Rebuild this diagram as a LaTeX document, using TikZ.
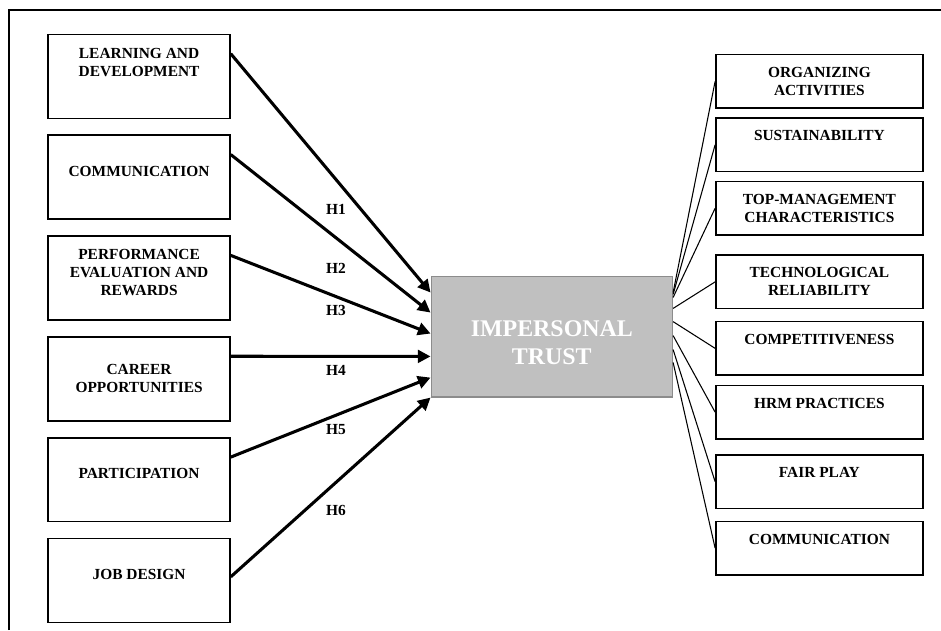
\documentclass[tikz,border=0pt]{standalone}
\usepackage{fontspec}
\setmainfont{Liberation Serif}
\usepackage{xcolor}
\usepackage{tikz}
\usetikzlibrary{positioning, arrows.meta}
\definecolor{trustfill}{HTML}{C0C0C0}
\definecolor{trustedge}{HTML}{8C8C8C}

\begin{document}
\begin{tikzpicture}[
  node distance = 0.41cm and 0.6cm,
  factor/.style = {draw, line width=1.1pt, align=center, font=\fontsize{11.6pt}{13.5pt}\selectfont\bfseries, minimum width=4.81cm, minimum height=2.22cm, inner sep=1pt},
  dimension/.style = {factor, minimum width=5.48cm, minimum height=1.42cm},
  trust/.style = {draw=trustedge, line width=0.8pt, fill=trustfill, text=white, align=center, font=\fontsize{18pt}{21pt}\selectfont\bfseries, minimum width=6.39cm, minimum height=3.2cm},
  hyp/.style = {font=\fontsize{11.6pt}{13.5pt}\selectfont\bfseries, inner sep=1pt},
  effect/.style = {-{Triangle[length=9.5pt, width=9.5pt]}, line width=2.3pt},
  link/.style = {line width=0.8pt},
]
\useasboundingbox (0,0) rectangle (24.897,16.669);
\draw[line width=0.8pt] (0.238,0) |- (24.897,16.404);
% left column
\node[factor] (a) at (3.68,14.65) {LEARNING AND\\DEVELOPMENT\\[7.5pt]\mbox{}};
\node[factor, below=of a] (b) {COMMUNICATION\\[-4.5pt]\mbox{}};
\node[factor, below=of b] (c) {PERFORMANCE\\EVALUATION AND\\REWARDS\\[-4.5pt]\mbox{}};
\node[factor, below=of c] (d) {CAREER\\OPPORTUNITIES};
\node[factor, below=of d] (e) {PARTICIPATION\\[-4.5pt]\mbox{}};
\node[factor, below=of e] (f) {JOB DESIGN\\[-4.5pt]\mbox{}};
% centre
\node[trust] (t) at (14.6,7.765) {\mbox{}\\IMPERSONAL\\TRUST};
% right column
\node[dimension] (g) at (21.68,14.517) {ORGANIZING\\ACTIVITIES};
\node[dimension, below=0.22cm of g] (h) {SUSTAINABILITY\\\mbox{}};
\node[dimension, below=0.22cm of h] (i) {TOP-MANAGEMENT\\CHARACTERISTICS};
\node[dimension, below=0.49cm of i] (j) {TECHNOLOGICAL\\RELIABILITY};
\node[dimension, below=0.30cm of j] (k) {COMPETITIVENESS\\\mbox{}};
\node[dimension, below=0.23cm of k] (l) {HRM PRACTICES\\\mbox{}};
\node[dimension, below=0.38cm of l] (m) {FAIR PLAY\\\mbox{}};
\node[dimension, below=0.30cm of m] (n) {COMMUNICATION\\\mbox{}};
% hypotheses
\node[hyp] (h1) at (8.89,11.139) {H1};
\node[hyp] (h2) at (8.89,9.559) {H2};
\node[hyp] (h3) at (8.89,8.467) {H3};
\node[hyp] (h4) at (8.89,6.879) {H4};
\node[hyp] (h5) at (8.89,5.292) {H5};
\node[hyp] (h6) at (8.89,3.157) {H6};
\draw[effect] ([yshift=-0.53cm]a.north east) -- ([yshift=-0.45cm]t.north west);
\draw[effect] ([yshift=-0.53cm]b.north east) -- ([yshift=-0.98cm]t.north west);
\draw[effect] ([yshift=-0.53cm]c.north east) -- ([yshift=-1.535cm]t.north west);
\draw[effect] ([yshift=-0.53cm]d.north east) -- ([yshift=-2.14cm]t.north west);
\draw[effect] ([yshift=-0.53cm]e.north east) -- ([yshift=-2.70cm]t.north west);
\draw[effect] ([yshift=-1.03cm]f.north east) -- (t.south west);
\draw[link] ([yshift=-0.45cm]t.north east) -- (g.west);
\draw[link] ([yshift=-0.50cm]t.north east) -- (h.west);
\draw[link] ([yshift=-0.58cm]t.north east) -- (i.west);
\draw[link] ([yshift=-0.87cm]t.north east) -- (j.west);
\draw[link] ([yshift=-1.22cm]t.north east) -- (k.west);
\draw[link] ([yshift=-1.59cm]t.north east) -- (l.west);
\draw[link] ([yshift=-1.96cm]t.north east) -- (m.west);
\draw[link] ([yshift=-2.30cm]t.north east) -- (n.west);
\end{tikzpicture}
\end{document}
